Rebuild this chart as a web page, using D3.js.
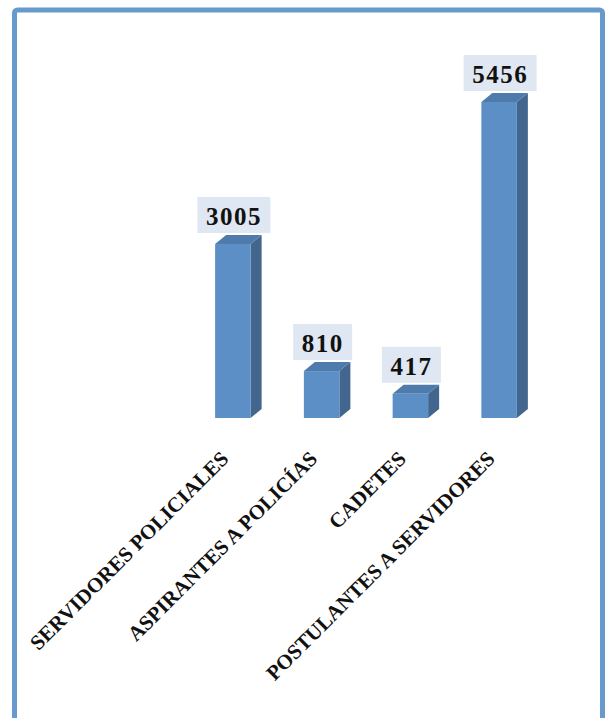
<!DOCTYPE html>
<html>
<head>
<meta charset="utf-8">
<script src="https://cdn.jsdelivr.net/npm/d3@7/dist/d3.min.js"></script>
<style>
  body { margin: 0; background: #fff; }
  text { font-family: "Liberation Serif", "DejaVu Serif", serif; font-weight: bold; }
</style>
</head>
<body>
<script>
// chart data
var categories = ["SERVIDORES POLICIALES", "ASPIRANTES A POLICÍAS", "CADETES", "POSTULANTES A SERVIDORES"];
var values = [3005, 810, 417, 5456];

var width = 613, height = 718;
var depthX = 11, depthY = 9;

var svg = d3.select("body").append("svg")
    .attr("width", width)
    .attr("height", height);

// blue frame
svg.append("rect")
    .attr("x", 14.5).attr("y", 10)
    .attr("width", 588).attr("height", 760)
    .attr("rx", 3)
    .style("fill", "white")
    .style("stroke", "#6699cc")
    .style("stroke-width", 5);

var x = d3.scaleBand()
    .domain(categories)
    .range([188.5, 543.5])
    .paddingInner(0.6)
    .paddingOuter(0.3);

var y = d3.scaleLinear()
    .domain([0, 6000])
    .range([418, 70.5]);

var bars = svg.selectAll(".bar")
    .data(categories)
    .enter().append("g")
    .attr("class", "bar");

// side face
bars.append("polygon")
    .style("fill", "#43668f")
    .attr("points", function (d, i) {
      var x2 = x(d) + x.bandwidth(), t = y(values[i]), b = y(0);
      return [[x2, t], [x2 + depthX, t - depthY], [x2 + depthX, b - depthY], [x2, b]].join(" ");
    });

// top face
bars.append("polygon")
    .style("fill", "#4f7bac")
    .attr("points", function (d, i) {
      var x1 = x(d), x2 = x1 + x.bandwidth(), t = y(values[i]);
      return [[x1, t], [x1 + depthX, t - depthY], [x2 + depthX, t - depthY], [x2, t]].join(" ");
    });

// front face
bars.append("rect")
    .style("fill", "#5b8fc6")
    .attr("x", function (d) { return x(d); })
    .attr("y", function (d, i) { return y(values[i]); })
    .attr("width", x.bandwidth())
    .attr("height", function (d, i) { return y(0) - y(values[i]); });

// value labels with light boxes
bars.each(function (d, i) {
  var g = d3.select(this);
  var cx = x(d) + x.bandwidth() / 2 + 1;
  var bottom = y(values[i]) - depthY - 2;
  var box = g.append("rect").style("fill", "#dfe7f2");
  var t = g.append("text")
      .attr("x", cx)
      .attr("y", bottom - 8)
      .attr("text-anchor", "middle")
      .style("font-size", "25px")
      .style("letter-spacing", "1.5px")
      .style("fill", "#111")
      .text(values[i]);
  var w = t.node().getComputedTextLength() + 17;
  box.attr("x", cx - w / 2).attr("y", bottom - 36)
     .attr("width", w).attr("height", 36);
});

// rotated category labels
svg.selectAll(".cat")
    .data(categories)
    .enter().append("text")
    .attr("class", "cat")
    .attr("text-anchor", "end")
    .attr("transform", function (d) {
      return "translate(" + (x(d) + x.bandwidth() / 2 - 3) + ",460) rotate(-45)";
    })
    .style("font-size", "21px")
    .style("fill", "#111")
    .text(function (d) { return d; });
</script>
</body>
</html>
